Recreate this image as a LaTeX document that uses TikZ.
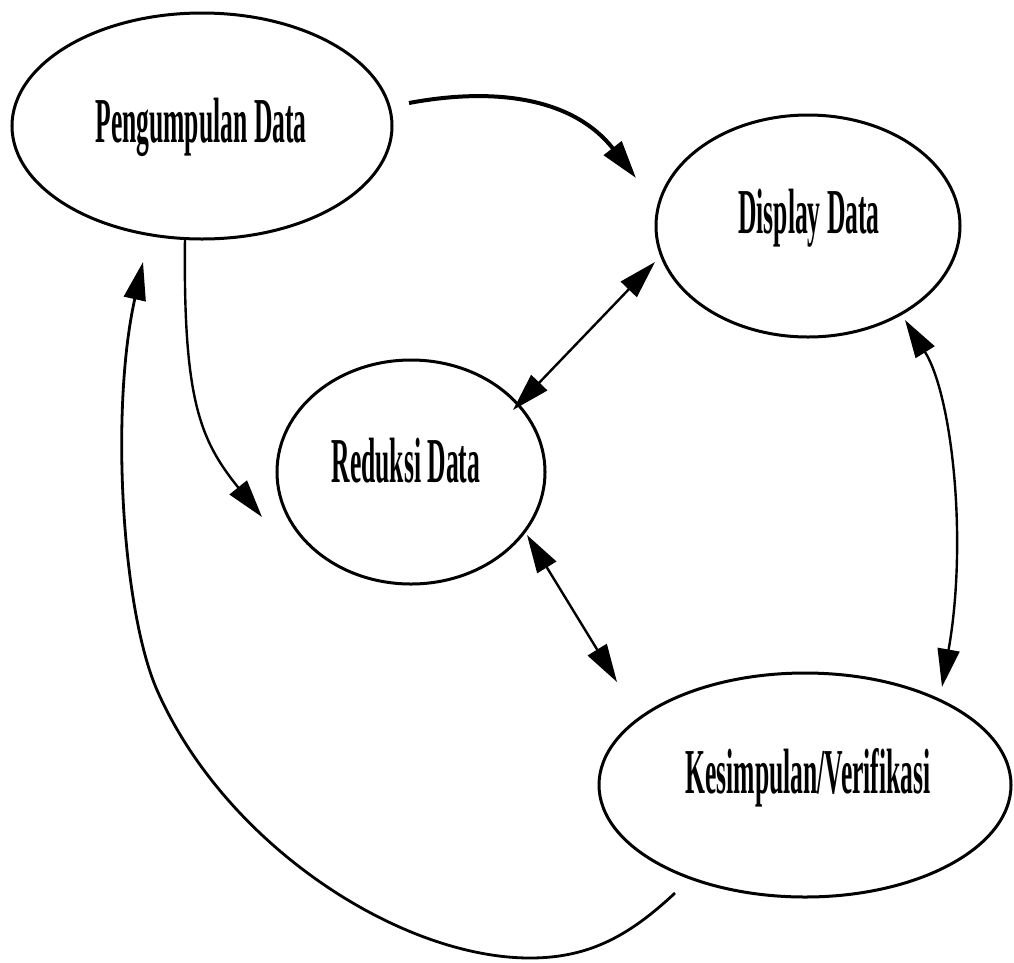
\documentclass[tikz,border=0pt]{standalone}
\usepackage{fontspec}
\setmainfont{Liberation Serif}
\usetikzlibrary{arrows.meta,calc,shapes.geometric}
\newcommand{\condtxt}[1]{\scalebox{0.40}[1]{\fontsize{64}{70}\selectfont\bfseries #1}}
\tikzset{
  oval/.style={ellipse, draw, line width=3pt, inner sep=0pt},
  lbl/.style={anchor=base, inner sep=0pt},
  conn/.style={line width=2.4pt, -{Triangle[length=38pt,width=22pt]}},
  conn2/.style={line width=2.4pt, {Triangle[length=38pt,width=22pt]}-{Triangle[length=38pt,width=22pt]}},
}
\begin{document}
\begin{tikzpicture}[x=1pt,y=-1pt]
\useasboundingbox (0,0) rectangle (1014,962);
% ellipses
\node[oval, minimum width=380pt, minimum height=226pt] (p) at (202,126) {};
\node[oval, minimum width=304pt, minimum height=222pt] (d) at (808,226) {};
\node[oval, minimum width=268pt, minimum height=224pt] (r) at (411,472) {};
\node[oval, minimum width=412pt, minimum height=224pt] (k) at (805,785) {};
% labels
\node[lbl] (tp) at (201,142) {\condtxt{Pengumpulan Data}};
\node[lbl] (td) at (809,233) {\condtxt{Display Data}};
\node[lbl] (tr) at (406,482) {\condtxt{Reduksi Data}};
\node[lbl] (tk) at (808,793) {\condtxt{Kesimpulan/Verifikasi}};
% connectors
\draw[conn, line width=4pt] ($(p)+(207,-23)$) .. controls (500,86) and (575,100) .. ($(d)+(-172,-48)$);
\draw[conn] ($(p)+(-17,112)$) .. controls (183,400) and (200,440) .. ($(r)+(-149,45)$);
\draw[conn, line width=2.8pt] ($(k)+(-130,108)$) .. controls (630,935) and (590,958) .. (530,958)
   .. controls (400,958) and (225,845) .. (157,690)
   .. controls (122,610) and (110,410) .. ($(p)+(-59,136)$);
\draw[conn2] ($(r)+(102,-62)$) -- ($(d)+(-153,36)$);
\draw[conn2] ($(r)+(116,63)$) -- ($(k)+(-188,-103)$);
\draw[conn2] ($(d)+(97,94)$) .. controls (952,395) and (968,540) .. ($(k)+(137,-98)$);
\end{tikzpicture}
\end{document}
